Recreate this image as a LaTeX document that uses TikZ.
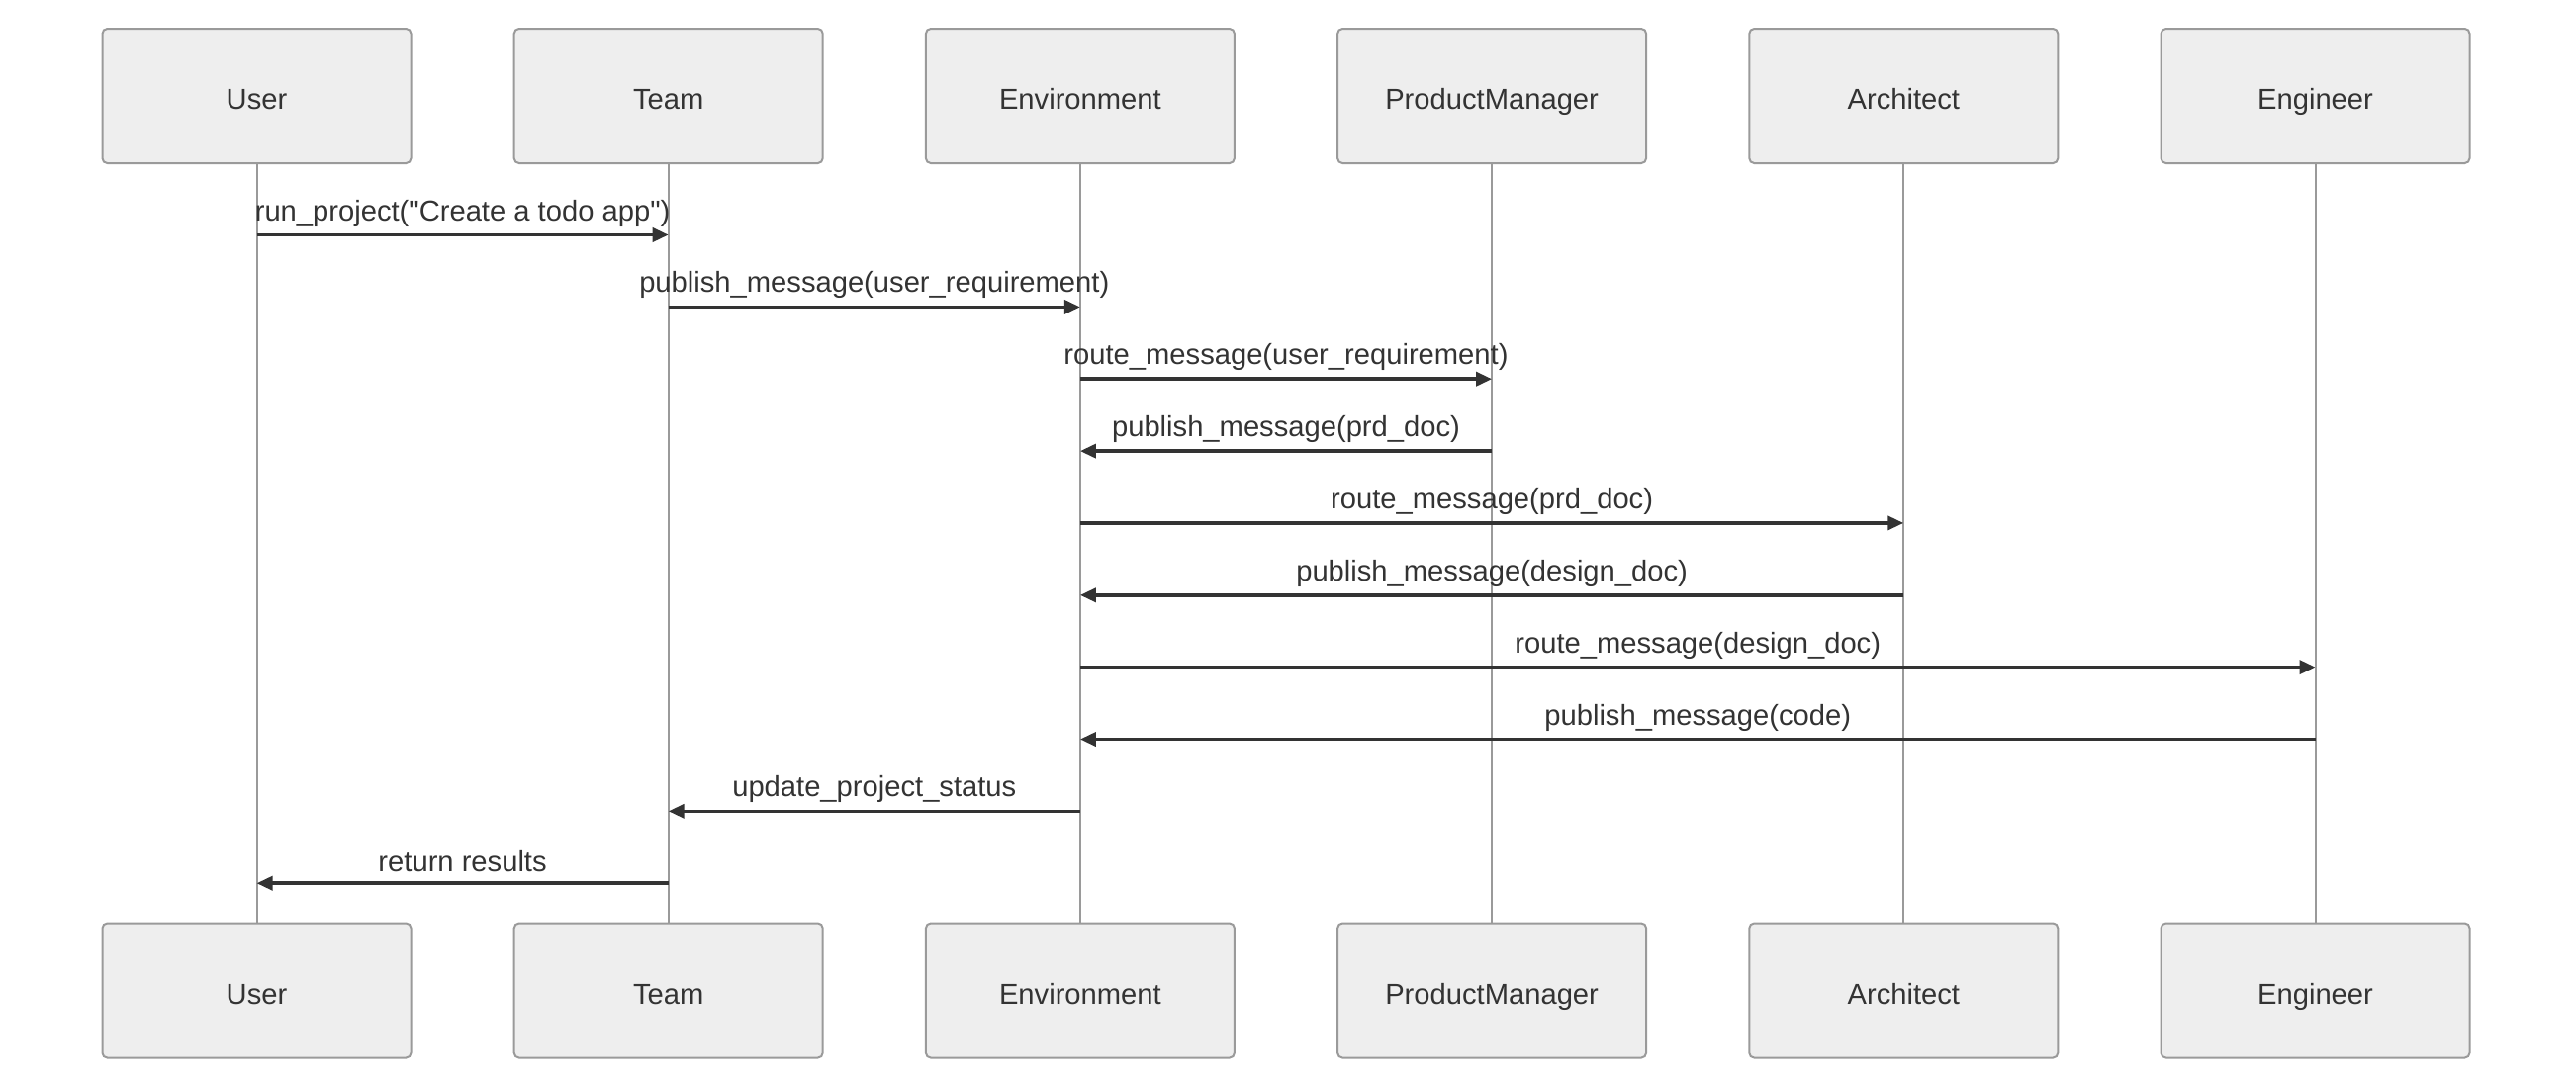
\documentclass[tikz,border=0pt]{standalone}
\usepackage{fontspec}
\setmainfont{Liberation Sans}[Ligatures=TeXOff]
\usetikzlibrary{positioning}
\usetikzlibrary{arrows.meta}
\usepackage{xcolor}
\definecolor{boxfill}{HTML}{EEEEEE}
\definecolor{boxline}{HTML}{9A9A9A}
\definecolor{ink}{HTML}{333333}
\newcommand{\msgfont}{\fontsize{8.3}{10}\selectfont}
\tikzset{
  actor/.style={draw=boxline, fill=boxfill, rounded corners=0.05cm, line width=0.02cm,
    minimum width=3.12cm, minimum height=1.36cm, text=ink, font=\msgfont,
    text height=0.78em, text depth=0pt},
  lifeline/.style={draw=boxline, line width=0.02cm},
  msg/.style={draw=ink, line width=0.035cm, -{Triangle[length=0.16cm,width=0.14cm]}},
  lbl/.style={midway, yshift=0.22cm, text=ink, font=\msgfont}
}

\begin{document}
\begin{tikzpicture}
\useasboundingbox (0,0) rectangle (26.04,-10.84);
% actors, top row
\node[actor] (user) at (2.595,-0.97) {User};
\node[actor, right=1.022cm of user] (team) {Team};
\node[actor, right=1.022cm of team] (env) {Environment};
\node[actor, right=1.022cm of env] (pm) {ProductManager};
\node[actor, right=1.022cm of pm] (arch) {Architect};
\node[actor, right=1.022cm of arch] (eng) {Engineer};
% actors, bottom row
\node[actor] (userB) at (2.595,-10.015) {User};
\node[actor, right=1.022cm of userB] (teamB) {Team};
\node[actor, right=1.022cm of teamB] (envB) {Environment};
\node[actor, right=1.022cm of envB] (pmB) {ProductManager};
\node[actor, right=1.022cm of pmB] (archB) {Architect};
\node[actor, right=1.022cm of archB] (engB) {Engineer};
% lifelines
\foreach \a in {user,team,env,pm,arch,eng}
  \draw[lifeline] (\a.south) -- (\a B.north);
% messages
\foreach \from/\to/\y/\txt in {
  user/team/2.375/{run\_project("Create a todo app")},
  team/env/3.104/{publish\_message(user\_requirement)},
  env/pm/3.832/{route\_message(user\_requirement)},
  pm/env/4.561/{publish\_message(prd\_doc)},
  env/arch/5.289/{route\_message(prd\_doc)},
  arch/env/6.018/{publish\_message(design\_doc)},
  env/eng/6.746/{route\_message(design\_doc)},
  eng/env/7.475/{publish\_message(code)},
  env/team/8.203/{update\_project\_status},
  team/user/8.932/{return results}}
  \draw[msg] (\from |- 0,-\y) -- (\to |- 0,-\y) node[lbl] {\txt};
\end{tikzpicture}
\end{document}
